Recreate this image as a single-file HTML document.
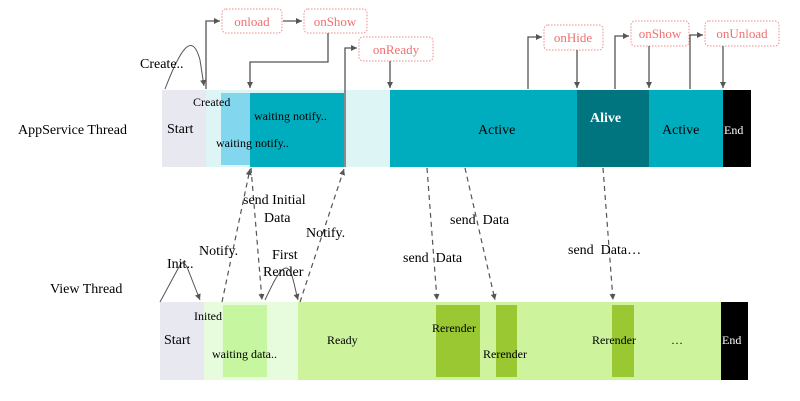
<!DOCTYPE html>
<html><head><meta charset="utf-8"><style>
html,body{margin:0;padding:0;background:#fff;}
svg{display:block;}
text{font-family:"Liberation Serif",serif;fill:#000;white-space:pre;}
.cb{fill:#fff;stroke:#f08a8a;stroke-width:1;stroke-dasharray:1.5 1.5;}
.ct{fill:#f07070;font-size:13px;text-anchor:middle;}
.ln{stroke:#555;stroke-width:1.3;fill:none;}
.ds{stroke:#555;stroke-width:1.2;fill:none;stroke-dasharray:5 4;}
</style></head><body>
<svg width="800" height="401" viewBox="0 0 800 401" xmlns="http://www.w3.org/2000/svg">
<defs>
<marker id="a" markerWidth="8" markerHeight="8" refX="6" refY="3" orient="auto" markerUnits="userSpaceOnUse"><path d="M0,0 L6,3 L0,6 z" fill="#555"/></marker>
</defs>
<rect x="162" y="90" width="44" height="77" fill="#e8e8f1"/>
<rect x="206" y="90" width="184" height="77" fill="#def5f5"/>
<rect x="221" y="93" width="29" height="72" fill="#82d7ee"/>
<rect x="250" y="93" width="94" height="74" fill="#00adbe"/>
<rect x="390" y="90" width="187" height="77" fill="#00adbe"/>
<rect x="577" y="90" width="72" height="77" fill="#007580"/>
<rect x="649" y="90" width="74" height="77" fill="#00adbe"/>
<rect x="723" y="90" width="28" height="77" fill="#000"/>
<text x="167" y="133" font-size="14">Start</text>
<text x="193" y="106" font-size="12">Created</text>
<text x="254" y="120" font-size="12">waiting notify..</text>
<text x="216" y="147" font-size="12">waiting notify..</text>
<text x="478" y="134" font-size="14">Active</text>
<text x="590" y="122" font-size="14" font-weight="bold" style="fill:#fff">Alive</text>
<text x="662" y="134" font-size="14">Active</text>
<text x="724" y="134" font-size="12" style="fill:#fff">End</text>
<text x="18" y="134" font-size="14">AppService Thread</text>
<text x="50" y="293" font-size="14">View Thread</text>
<rect x="160" y="302" width="44" height="78" fill="#e8e8f1"/>
<rect x="204" y="302" width="94" height="78" fill="#e6fcdd"/>
<rect x="223" y="305" width="44" height="72" fill="#c6f7a0"/>
<rect x="298" y="302" width="423" height="78" fill="#cdf39d"/>
<rect x="436" y="305" width="44" height="72" fill="#99c832"/>
<rect x="496" y="305" width="21" height="72" fill="#99c832"/>
<rect x="612" y="305" width="22" height="72" fill="#99c832"/>
<rect x="721" y="302" width="27" height="78" fill="#000"/>
<text x="164" y="344" font-size="14">Start</text>
<text x="194" y="320" font-size="12">Inited</text>
<text x="212" y="358" font-size="12">waiting data..</text>
<text x="327" y="344" font-size="12">Ready</text>
<text x="432" y="332" font-size="12">Rerender</text>
<text x="483" y="358" font-size="12">Rerender</text>
<text x="592" y="344" font-size="12">Rerender</text>
<text x="671" y="344" font-size="12">…</text>
<text x="722" y="344" font-size="12" style="fill:#fff">End</text>
<rect class="cb" x="222" y="9" width="60" height="24" rx="4"/><text class="ct" x="252" y="26">onload</text>
<rect class="cb" x="304" y="9" width="63" height="24" rx="4"/><text class="ct" x="335" y="26">onShow</text>
<rect class="cb" x="359" y="37" width="74" height="24" rx="4"/><text class="ct" x="396" y="54">onReady</text>
<rect class="cb" x="544" y="25" width="59" height="25" rx="4"/><text class="ct" x="573" y="42">onHide</text>
<rect class="cb" x="631" y="21" width="58" height="25" rx="4"/><text class="ct" x="660" y="38">onShow</text>
<rect class="cb" x="705" y="21" width="74" height="25" rx="4"/><text class="ct" x="742" y="38">onUnload</text>
<path class="ln" d="M206,89 V21 H220" marker-end="url(#a)"/>
<path class="ln" d="M283,21 H302" marker-end="url(#a)"/>
<path class="ln" d="M328,33 V62 H250 V88" marker-end="url(#a)"/>
<path class="ln" d="M345,167 V48 H357" marker-end="url(#a)"/>
<path class="ln" d="M390,61 V88" marker-end="url(#a)"/>
<path class="ln" d="M528,89 V37 H542" marker-end="url(#a)"/>
<path class="ln" d="M577,50 V88" marker-end="url(#a)"/>
<path class="ln" d="M615,89 V36 H629" marker-end="url(#a)"/>
<path class="ln" d="M649,46 V88" marker-end="url(#a)"/>
<path class="ln" d="M690,89 V35 H703" marker-end="url(#a)"/>
<path class="ln" d="M723,46 V88" marker-end="url(#a)"/>
<path class="ln" style="stroke-width:1" d="M165,89 C180,50 192,30 200,60 L204,86" marker-end="url(#a)"/>
<path class="ln" style="stroke-width:1" d="M160,302 L180,265 Q183,260 187,267 L200,300" marker-end="url(#a)"/>
<path class="ln" style="stroke-width:1" d="M265,300 C272,285 280,268 286,268 C292,268 294,285 298,300" marker-end="url(#a)"/>
<path class="ds" d="M222,302 L250,169" marker-end="url(#a)"/>
<path class="ds" d="M251,168 L262,300" marker-end="url(#a)"/>
<path class="ds" d="M300,302 L344,169" marker-end="url(#a)"/>
<path class="ds" d="M427,168 L437,300" marker-end="url(#a)"/>
<path class="ds" d="M465,168 L495,300" marker-end="url(#a)"/>
<path class="ds" d="M603,168 L613,300" marker-end="url(#a)"/>
<text x="140" y="68" font-size="14">Create..</text>
<text x="167" y="268" font-size="14">Init..</text>
<text x="243" y="204" font-size="14">send Initial</text>
<text x="264" y="222" font-size="14">Data</text>
<text x="199" y="255" font-size="14">Notify.</text>
<text x="306" y="237" font-size="14">Notify.</text>
<text x="272" y="259" font-size="14">First</text>
<text x="263" y="276" font-size="14">Render</text>
<text x="403" y="262" font-size="14">send&#160;&#160;Data</text>
<text x="450" y="224" font-size="14">send&#160;&#160;Data</text>
<text x="568" y="254" font-size="14">send&#160;&#160;Data…</text>
</svg>
</body></html>
